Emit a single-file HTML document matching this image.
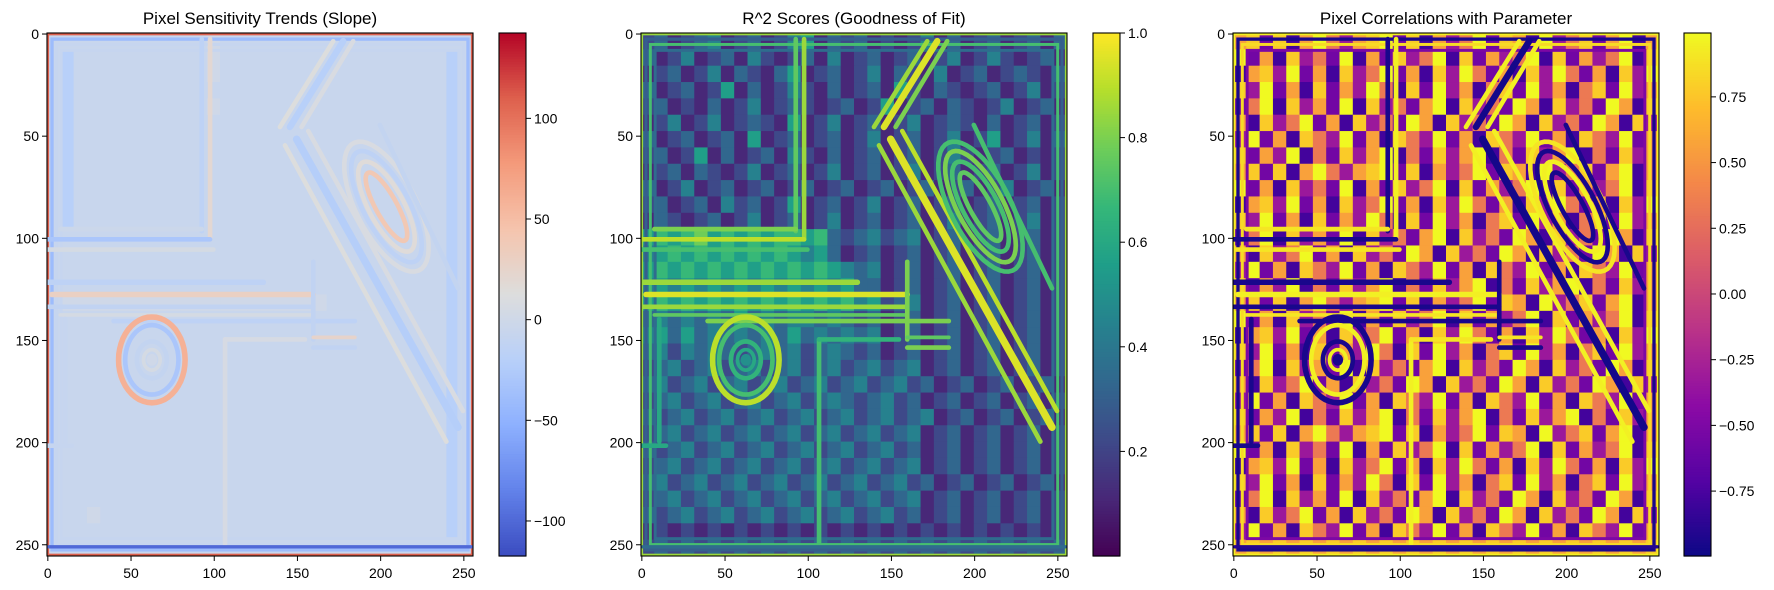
<!DOCTYPE html>
<html><head><meta charset="utf-8">
<style>
html,body{margin:0;padding:0;background:#fff;}
svg{display:block;font-family:"Liberation Sans","DejaVu Sans",sans-serif;}
</style></head>
<body>
<svg id="fig" width="1774" height="590" viewBox="0 0 1774 590" xmlns="http://www.w3.org/2000/svg"></svg>
<script>
// ---------- data ----------
const titles = ["Pixel Sensitivity Trends (Slope)", "R^2 Scores (Goodness of Fit)", "Pixel Correlations with Parameter"];
const axisTicks = [0, 50, 100, 150, 200, 250];
const slopeRange = [-117.4, 142.4];
const r2Range = [0, 1];
const corrRange = [-0.997, 0.993];
const slopeTicks = [100, 50, 0, -50, -100];
const r2Ticks = [1.0, 0.8, 0.6, 0.4, 0.2];
const corrTicks = [0.75, 0.5, 0.25, 0.0, -0.25, -0.5, -0.75];
const slopeTickLabels = ["100", "50", "0", "\u221250", "\u2212100"];
const r2TickLabels = ["1.0", "0.8", "0.6", "0.4", "0.2"];
const corrTickLabels = ["0.75", "0.50", "0.25", "0.00", "\u22120.25", "\u22120.50", "\u22120.75"];

// coarse base grids (32x32 blocks of 8 px); digit -> level value
const slopeLevels = [-110, -50, -20, -6, 0, 12, 50, 120];
const slopeGrid = [
"33333333333343333333333333333333","32333333333343333333333333333323","32333333333343333333333333333323","32333333333333333333333333333323",
"32333333333343333333333333333323","32333333333333333333333333333323","32333333333333333333333333333323","32333333333333333333333333333323",
"32333333333333333333333333333323","32333333333333333333333333333323","32333333333333333333333333333323","32333333333333333333333333333323",
"33333333333333333333333333333323","33333333333333333333333333333323","33333333333333333333333333333323","33333333333333333333333333333323",
"34444444444444444444433333333323","33333333333333333333333333333323","33333333333333333333333333333323","33333333333333333333333333333323",
"33333333333333333333333333333323","33333333333333333333333333333323","33333333333333333333333333333323","33333333333333333333333333333323",
"33333333333333333333333333333323","33333333333333333333333333333323","33333333333333333333333333333323","33333333333333333333333333333323",
"33333333333333333333333333333323","33343333333333333333333333333323","33333333333333333333333333333323","33333333333333333333333333333333"];
const r2Levels = [0.0,0.11,0.22,0.33,0.44,0.56,0.67,0.78,0.89,1.0];
const r2Grid = [
"23123412312451323121241312312313","31241231421231412312312412421231","12312413213512312413214123123213","31231251312421312315213212312412",
"23121312412321231251231321241231","12412412321512412312412321312312","31231231512312312412312412512413","23125131231421312312312421231212",
"12313212412312412312412312312412","31241231231231231231231231241231","23123142312512312412312312312312","13212312412312412312312412312412",
"56567565656656323423412312312312","45656565656545312312312312312312","56565656565656543412312312312312","45454545454545453312312312312312",
"56565656565656564523412312312312","34343435343443432312312312312312","45353434343534343412312312312312","34243432343423432312312312312312",
"23423423423423423423412312312312","34234234234234234234231231231231","23423423423423432342312312312312","32342342342342342342341231231231",
"23423423423423423423412312312312","32342342342342342342312312312312","23423423423423423423412312312312","34234234234234234234231231231231",
"23423423423423423423412312312312","32342342342342342342312312312312","12121212121212121212121212121212","23232323232323232323232323232323"];
const corrLevels = [-1,-0.78,-0.56,-0.33,-0.11,0.11,0.33,0.56,0.78,1];
const corrGrid = [
"78281796378928173692871936827917","92718362917283691827369182736918","17839271836927183962718396271839","83927182739618293716829371682937",
"26918372918362791836297183629718","71836927183629718362971836297183","39271863927186392718639271863927","82739162837916283791628379162837",
"78281796378928173692871936827917","92718362917283691827369182736918","17839271836927183962718396271839","83927182739618293716829371682937",
"26918372918362791836297183629718","71836927183629718362971836297183","39271863927186392718639271863927","82739162837916283791628379162837",
"78281796378928173692871936827917","92718362917283691827369182736918","17839271836927183962718396271839","83927182739618293716829371682937",
"26918372918362791836297183629718","71836927183629718362971836297183","39271863927186392718639271863927","82739162837916283791628379162837",
"78281796378928173692871936827917","92718362917283691827369182736918","17839271836927183962718396271839","83927182739618293716829371682937",
"26918372918362791836297183629718","71836927183629718362971836297183","39271863927186392718639271863927","78787878787878787878787878787878"];

// structural features in image (data) coordinates
const featureShapes = [
 ["rect",0.6,1.2],["rect",3,1.8],["rect",5.6,1.6],["rect",8.5,1.6],
 ["line",93,3,93,97,2.5],["line",98,3,98,101,2.5],["line",8,96,93,96,2.5],["line",0,101,98,101,2.5],
 ["line",0,106,100,106,2.5],["line",0,122,130,122,3],["line",3,128,160,128,3],["line",0,134,160,134,2.5],
 ["line",8,138,160,138,2],["line",40,141,185,141,2.5],["line",160,112,160,150,2.5],["line",160,149,185,149,2],
 ["line",160,154,185,154,2.5],
 ["ell",63,160,20,21,0,3],["ell",63,160,16,17,0,2.5],["ell",63,160,9,9,0,2.5],["ell",63,160,5,5,0,2],["ell",63,160,1.5,1.5,0,3],
 ["line",150,52,247,193,4],["line",143,55,240,200,2.5],["line",157,48,250,185,2.5],
 ["line",146,46,178,4,3.5],["line",140,46,172,4,2.5],["line",153,46,184,4,2.5],
 ["ell",204,85,37,17,55,2.5],["ell",204,85,32,13,55,2.5],["ell",204,85,26,10,55,2.5],["ell",204,85,20,6,55,2.5],
 ["line",200,45,247,125,2.5],["line",107,150,107,250,2.5],["line",107,150,155,150,2.5],
 ["line",11,140,11,200,2.5],["line",0,202,15,202,2.5],["line",1,251.5,255,251.5,1.8]
];
const slopeFeat = [110,-40,-8,-8, -15,20,-3,-30, 5,-15,30,-12, 5,-15,-12,25, -12,
 60,-30,-10,5,0, -22,12,8, -20,12,8, 8,-15,15,40, -10,6,6, -8,-8,-100];
const r2Feat = [0.85,0.3,0.7,0.35, 0.75,0.85,0.8,0.9, 0.7,0.85,0.95,0.85, 0.75,0.8,0.8,0.75, 0.8,
 0.9,0.7,0.65,0.6,0.5, 0.95,0.85,0.9, 0.95,0.85,0.8, 0.7,0.8,0.7,0.75, 0.7,0.7,0.65, 0.6,0.6,0.35];
const corrFeat = [0.95,-0.95,0.85,-0.5, -0.95,0.95,0.9,-0.95, 0.9,-0.95,0.95,-0.95, 0.9,-0.95,-0.95,0.9, -0.95,
 -0.95,0.95,-0.95,0.95,-0.95, -0.97,0.95,0.95, -0.97,0.95,0.95, 0.9,-0.95,0.95,-0.95, -0.95,0.95,0.9, -0.95,-0.95,-0.9];

// ---------- colormaps ----------
const CM = {
 coolwarm: [[59,76,192],[98,130,234],[141,176,254],[184,208,249],[221,221,221],[245,196,173],[244,154,123],[222,96,77],[180,4,38]],
 viridis: [[68,1,84],[72,40,120],[62,74,137],[49,104,142],[38,130,142],[31,158,137],[53,183,121],[109,205,89],[180,222,44],[253,231,37]],
 plasma: [[13,8,135],[84,2,163],[139,10,165],[185,50,137],[219,92,104],[244,136,73],[254,188,43],[240,249,33]]
};
function cmap(name, t){
  const s = CM[name]; t = Math.max(0, Math.min(1, t));
  const f = t*(s.length-1); const i = Math.min(Math.floor(f), s.length-2); const u = f-i;
  const c = s[i].map((v,k)=>Math.round(v+(s[i+1][k]-v)*u));
  return `rgb(${c[0]},${c[1]},${c[2]})`;
}

// ---------- layout ----------
const NS = "http://www.w3.org/2000/svg";
const svg = document.getElementById("fig");
const Y0 = 33, H = 523, W = 426, N = 256;
const panelX = [47, 641, 1233];
const cbX = [499, 1093, 1684], CBW = 27;
function mk(tag, attrs, parent){
  const e = document.createElementNS(NS, tag);
  for (const k in attrs) e.setAttribute(k, attrs[k]);
  (parent||svg).appendChild(e); return e;
}

const panels = [
 {cm:"coolwarm", range:slopeRange, levels:slopeLevels, grid:slopeGrid, feat:slopeFeat, ticks:slopeTicks, labels:slopeTickLabels, name:"slope"},
 {cm:"viridis", range:r2Range, levels:r2Levels, grid:r2Grid, feat:r2Feat, ticks:r2Ticks, labels:r2TickLabels, name:"r2"},
 {cm:"plasma", range:corrRange, levels:corrLevels, grid:corrGrid, feat:corrFeat, ticks:corrTicks, labels:corrTickLabels, name:"corr"}
];

panels.forEach((p, pi) => {
  const x0 = panelX[pi];
  const xS = d => x0 + d*W/N;
  const yS = d => Y0 + d*H/N;
  const col = v => cmap(p.cm, (v-p.range[0])/(p.range[1]-p.range[0]));
  const sc = (W/N + H/N)/2;

  const g = mk("g", {});
  
  
  const clipId = "clip"+pi;
  const cp = mk("clipPath", {id:clipId}, svg);
  mk("rect", {x:x0, y:Y0, width:W, height:H}, cp);
  g.setAttribute("clip-path", `url(#${clipId})`);

  const rows = p.grid.length, cols = p.grid[0].length, bs = N/cols;
  for (let r=0;r<rows;r++) for (let c=0;c<cols;c++){
    const v = p.levels[+p.grid[r][c]];
    const cell = mk("rect", {x:xS(c*bs), y:yS(r*bs), width:xS((c+1)*bs)-xS(c*bs)+0.5, height:yS((r+1)*bs)-yS(r*bs)+0.5, fill:col(v)}, g);
    
    
  }
  featureShapes.forEach((f, fi) => {
    const v = p.feat[fi]; const c = col(v);
    let e;
    if (f[0]==="rect"){
      const ins=f[1];
      e = mk("rect", {x:xS(ins), y:yS(ins), width:xS(N-ins)-xS(ins), height:yS(N-ins)-yS(ins), fill:"none", stroke:c, "stroke-width":f[2]*sc}, g);
    } else if (f[0]==="line"){
      e = mk("line", {x1:xS(f[1]), y1:yS(f[2]), x2:xS(f[3]), y2:yS(f[4]), stroke:c, "stroke-width":f[5]*sc, "stroke-linecap":"round"}, g);
    } else {
      const [_,cx,cy,a,b,rot,w] = f; const th = rot*Math.PI/180; const pts=[];
      for (let k=0;k<48;k++){ const t=k/48*2*Math.PI;
        const dx=a*Math.cos(t)*Math.cos(th)-b*Math.sin(t)*Math.sin(th);
        const dy=a*Math.cos(t)*Math.sin(th)+b*Math.sin(t)*Math.cos(th);
        pts.push(xS(cx+dx).toFixed(1)+","+yS(cy+dy).toFixed(1)); }
      e = mk("polygon", {points:pts.join(" "), fill:"none", stroke:c, "stroke-width":w*sc}, g);
    }
    
    
  });

  const fr = mk("rect", {x:x0, y:Y0, width:W, height:H, fill:"none", stroke:"#000", "stroke-width":1.1});
  
  

  const tt = mk("text", {x:x0+W/2, y:24, "text-anchor":"middle", "font-size":17, fill:"#000"});
  tt.textContent = titles[pi];
  
  

  axisTicks.forEach(t => {
    const xp = xS(t+0.5), yp = yS(t+0.5);
    mk("line", {x1:xp, y1:Y0+H, x2:xp, y2:Y0+H+5, stroke:"#000", "stroke-width":1});
    const xl = mk("text", {x:xp, y:Y0+H+22, "text-anchor":"middle", "font-size":14, fill:"#000"});
    xl.textContent = t;
    
    
    mk("line", {x1:x0-5, y1:yp, x2:x0, y2:yp, stroke:"#000", "stroke-width":1});
    const yl = mk("text", {x:x0-8, y:yp+5, "text-anchor":"end", "font-size":14, fill:"#000"});
    yl.textContent = t;
    
    
  });

  const cx = cbX[pi];
  const cb = mk("g", {});
  
  
  const S = 200;
  for (let k=0;k<S;k++){
    mk("rect", {x:cx, y:Y0+H*k/S, width:CBW, height:H/S+0.6, fill:cmap(p.cm, 1-(k+0.5)/S)}, cb);
  }
  mk("rect", {x:cx, y:Y0, width:CBW, height:H, fill:"none", stroke:"#000", "stroke-width":1.1}, cb);
  const cbY = v => Y0 + H*(p.range[1]-v)/(p.range[1]-p.range[0]);
  p.ticks.forEach((t, ti) => {
    const yp = cbY(t);
    mk("line", {x1:cx+CBW, y1:yp, x2:cx+CBW+5, y2:yp, stroke:"#000", "stroke-width":1}, cb);
    const l = mk("text", {x:cx+CBW+8, y:yp+5, "font-size":14, fill:"#000"}, cb);
    l.textContent = p.labels[ti];
    
    
  });
});
</script>
</body></html>
